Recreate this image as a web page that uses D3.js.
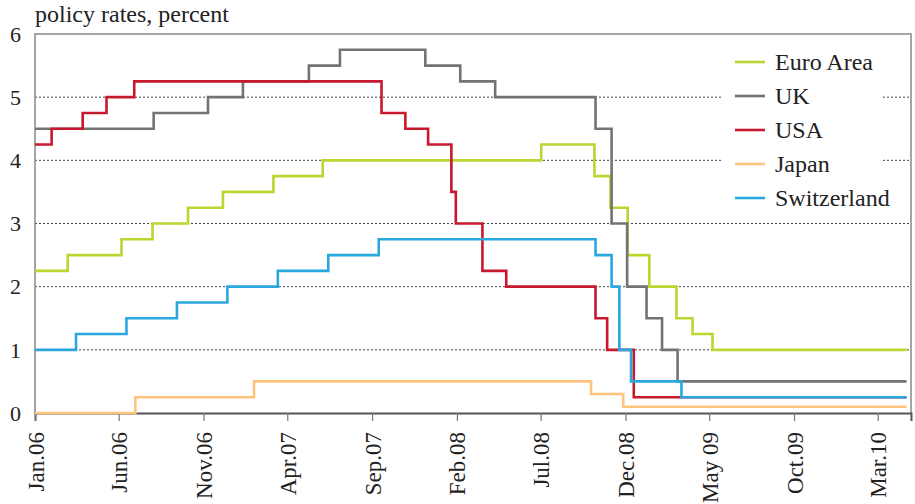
<!DOCTYPE html>
<html>
<head>
<meta charset="utf-8">
<script src="https://cdn.jsdelivr.net/npm/d3@7"></script>
<style>
  body { margin: 0; background: #fff; }
  svg { font-family: "Liberation Serif", "Times New Roman", serif; }
</style>
</head>
<body>
<script>
// policy rate changes: [date, rate], step after each date
var euroArea = [
  ["2006-01-01", 2.25], ["2006-03-01", 2.5], ["2006-06-06", 2.75], ["2006-08-01", 3.0],
  ["2006-10-04", 3.25], ["2006-12-06", 3.5], ["2007-03-07", 3.75], ["2007-06-04", 4.0],
  ["2008-07-02", 4.25], ["2008-10-06", 3.75], ["2008-11-04", 3.25], ["2008-12-05", 2.5],
  ["2009-01-13", 2.0], ["2009-03-03", 1.5], ["2009-04-01", 1.25], ["2009-05-07", 1.0]
];
var uk = [
  ["2006-01-01", 4.5], ["2006-08-03", 4.75], ["2006-11-09", 5.0], ["2007-01-11", 5.25],
  ["2007-05-10", 5.5], ["2007-07-05", 5.75], ["2007-12-06", 5.5], ["2008-02-07", 5.25],
  ["2008-04-10", 5.0], ["2008-10-08", 4.5], ["2008-11-06", 3.0], ["2008-12-04", 2.0],
  ["2009-01-08", 1.5], ["2009-02-05", 1.0], ["2009-03-05", 0.5]
];
var usa = [
  ["2006-01-01", 4.25], ["2006-01-31", 4.5], ["2006-03-28", 4.75], ["2006-05-10", 5.0],
  ["2006-06-29", 5.25], ["2007-09-18", 4.75], ["2007-10-31", 4.5], ["2007-12-11", 4.25],
  ["2008-01-22", 3.5], ["2008-01-30", 3.0], ["2008-03-18", 2.25], ["2008-04-30", 2.0],
  ["2008-10-08", 1.5], ["2008-10-29", 1.0], ["2008-12-16", 0.25]
];
var japan = [
  ["2006-01-01", 0], ["2006-07-01", 0.25], ["2007-01-31", 0.5], ["2008-09-30", 0.3],
  ["2008-11-27", 0.1]
];
var switzerland = [
  ["2006-01-01", 1.0], ["2006-03-16", 1.25], ["2006-06-15", 1.5], ["2006-09-14", 1.75],
  ["2006-12-14", 2.0], ["2007-03-15", 2.25], ["2007-06-14", 2.5], ["2007-09-13", 2.75],
  ["2008-10-08", 2.5], ["2008-11-06", 2.0], ["2008-11-20", 1.0], ["2008-12-11", 0.5],
  ["2009-03-12", 0.25]
];
var seriesNames = ["Euro Area", "UK", "USA", "Japan", "Switzerland"];
var seriesColors = ["#bcd530", "#737373", "#c8182f", "#fec47c", "#29a8df"];
var lastDate = "2010-04-22";

var tickDates = ["2006-01-01", "2006-06-01", "2006-11-01", "2007-04-01", "2007-09-01", "2008-02-01",
                 "2008-07-01", "2008-12-01", "2009-05-01", "2009-10-01", "2010-03-01"];
var tickLabels = ["Jan.06", "Jun.06", "Nov.06", "Apr.07", "Sep.07", "Feb.08",
                  "Jul.08", "Dec.08", "May 09", "Oct.09", "Mar.10"];
var yTicks = [0, 1, 2, 3, 4, 5, 6];

var margin = {top: 34, right: 4, bottom: 91, left: 35},
    width = 915 - margin.left - margin.right,
    height = 504 - margin.top - margin.bottom;

var parse = d3.timeParse("%Y-%m-%d");

var svg = d3.select("body").append("svg")
    .attr("width", 915)
    .attr("height", 504);

var g = svg.append("g")
    .attr("transform", "translate(" + margin.left + "," + margin.top + ")");

var x = d3.scaleTime()
    .domain([parse("2006-01-01"), parse("2010-04-30")])
    .range([0, width]);

var y = d3.scaleLinear()
    .domain([0, 6])
    .range([height, 0]);

// subtitle
svg.append("text")
    .attr("x", 35)
    .attr("y", 22)
    .attr("font-size", 24)
    .attr("fill", "#222")
    .text("policy rates, percent");

// dotted grid lines
g.selectAll(".grid")
    .data(yTicks.filter(function(d) { return d > 0 && d < 6; }))
    .enter().append("line")
    .attr("x1", 0)
    .attr("x2", width)
    .attr("y1", function(d) { return y(d); })
    .attr("y2", function(d) { return y(d); })
    .attr("stroke", "#444")
    .attr("stroke-width", 1)
    .attr("stroke-dasharray", "2,2");

// y tick labels
g.selectAll(".ylab")
    .data(yTicks)
    .enter().append("text")
    .attr("x", -14)
    .attr("y", function(d) { return y(d); })
    .attr("dy", "0.35em")
    .attr("text-anchor", "end")
    .attr("font-size", 22)
    .attr("fill", "#222")
    .text(function(d) { return d; });

// frame: top, left, right
g.append("path")
    .attr("d", "M0," + height + "V0H" + width + "V" + height)
    .attr("fill", "none")
    .attr("stroke", "#888")
    .attr("stroke-width", 1.5);

// x axis
var xAxis = d3.axisBottom(x)
    .tickValues(tickDates.map(parse))
    .tickSize(8)
    .tickFormat(function(d, i) { return tickLabels[i]; });

var xg = g.append("g")
    .attr("transform", "translate(0," + height + ")")
    .call(xAxis);

xg.select(".domain").attr("stroke", "#555").attr("stroke-width", 2);
xg.selectAll(".tick line").attr("stroke", "#777").attr("stroke-width", 1.2);
xg.selectAll(".tick text")
    .attr("transform", "rotate(-90)")
    .attr("x", -19)
    .attr("y", 0)
    .attr("dy", "0.35em")
    .style("text-anchor", "end")
    .attr("font-size", 23)
    .attr("font-family", "Liberation Serif, serif")
    .attr("fill", "#222");

// legend background covers the grid lines
var legend = g.append("g").attr("transform", "translate(700,0)");
legend.append("rect")
    .attr("x", -13)
    .attr("y", 10)
    .attr("width", 159)
    .attr("height", 170)
    .attr("fill", "#fff");

// series lines
var line = d3.line()
    .curve(d3.curveStepAfter)
    .x(function(d) { return x(parse(d[0])); })
    .y(function(d) { return y(d[1]); });

var allSeries = [euroArea, uk, usa, japan, switzerland];

allSeries.forEach(function(s, i) {
    var pts = s.concat([[lastDate, s[s.length - 1][1]]]);
    g.append("path")
        .datum(pts)
        .attr("fill", "none")
        .attr("stroke", seriesColors[i])
        .attr("stroke-width", 2.6)
        .attr("d", line);
});

// legend items
seriesNames.forEach(function(name, i) {
    var ly = 28 + i * 34;
    legend.append("line")
        .attr("x1", 0).attr("x2", 30)
        .attr("y1", ly).attr("y2", ly)
        .attr("stroke", seriesColors[i])
        .attr("stroke-width", 2.6);
    legend.append("text")
        .attr("x", 40)
        .attr("y", ly)
        .attr("dy", "0.35em")
        .attr("font-size", 24)
        .attr("fill", "#222")
        .text(name);
});
</script>
</body>
</html>
